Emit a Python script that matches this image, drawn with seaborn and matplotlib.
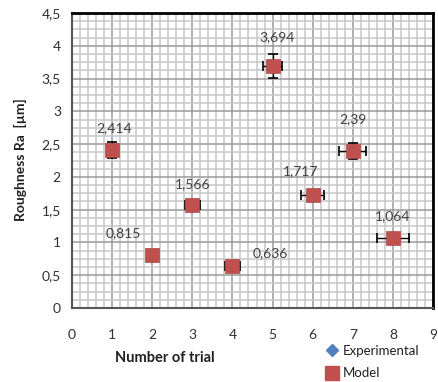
import matplotlib
matplotlib.use("Agg")
import matplotlib.pyplot as plt
import seaborn as sns
import numpy as np
import pandas as pd
from matplotlib.ticker import MultipleLocator, FuncFormatter
from matplotlib.lines import Line2D

trial = [1, 2, 3, 4, 5, 6, 7, 8]
experimental = [2.414, 0.815, 1.566, 0.636, 3.694, 1.717, 2.39, 1.064]
model = [2.414, 0.815, 1.566, 0.636, 3.694, 1.717, 2.39, 1.064]
x_err = [0.0, 0.0, 0.18, 0.19, 0.24, 0.29, 0.34, 0.40]
y_err = [0.125, 0.0, 0.0, 0.0, 0.18, 0.0, 0.12, 0.0]
point_labels = ["2,414", "0,815", "1,566", "0,636", "3,694", "1,717", "2,39", "1,064"]
label_offsets = [(2, 22), (-29, 21), (0, 21), (38, 13), (5, 29), (-12, 24), (0, 32), (0, 22)]

sns.set_style("white")
plt.rcParams['font.family'] = ['Lato', 'DejaVu Sans']

df = pd.DataFrame({"trial": trial, "experimental": experimental, "model": model})

fig = plt.figure(figsize=(4.38, 3.82), dpi=100)
ax = fig.add_axes([72/438, 74/382, (433-72)/438, (308-13)/382])

blue = "#4F81BD"
red = "#C0504D"

sns.scatterplot(data=df, x="trial", y="experimental", ax=ax, marker="D", s=45,
                color=blue, edgecolor=blue, zorder=3, legend=False)
ax.errorbar(trial, experimental, xerr=x_err, yerr=y_err, fmt="none", ecolor="black",
            elinewidth=1.0, capsize=3.5, capthick=1.2, zorder=4)
sns.scatterplot(data=df, x="trial", y="model", ax=ax, marker="s", s=95,
                color=red, edgecolor="#B04744", linewidth=0.5, zorder=5, legend=False)

for xi, yi, lab, (dx, dy) in zip(trial, model, point_labels, label_offsets):
    ax.annotate(lab, (xi, yi), xytext=(dx, dy), textcoords="offset pixels",
                ha="center", va="center", fontsize=10, color="#404040", zorder=6)

ax.set_xlim(0, 9)
ax.set_ylim(0, 4.5)
ax.xaxis.set_major_locator(MultipleLocator(1))
ax.xaxis.set_minor_locator(MultipleLocator(0.2))
ax.yaxis.set_major_locator(MultipleLocator(0.5))
ax.yaxis.set_minor_locator(MultipleLocator(0.125))
ax.yaxis.set_major_formatter(FuncFormatter(lambda v, p: ("%g" % v).replace(".", ",")))
ax.xaxis.set_major_formatter(FuncFormatter(lambda v, p: "%d" % v))

ax.grid(which="major", color="#9a9a9a", linewidth=1.1, zorder=0)
ax.grid(which="minor", color="#c8c8c8", linewidth=1.1, zorder=0)
ax.set_axisbelow(True)

ax.tick_params(axis="both", which="major", direction="out", length=4, width=1,
               color="#888888", labelsize=10, labelcolor="#303030")
ax.tick_params(axis="x", which="major", pad=11)
ax.tick_params(axis="y", which="major", pad=4)
ax.tick_params(which="minor", length=0)

for side in ["top", "right"]:
    ax.spines[side].set_color("black")
    ax.spines[side].set_linewidth(2)
for side in ["left", "bottom"]:
    ax.spines[side].set_color("#555555")
    ax.spines[side].set_linewidth(1.5)

ax.set_xlabel("")
ax.set_ylabel("")
fig.text(20/438, 1 - 160/382, "Roughness Ra  [µm]", rotation=90, ha="center", va="center",
         fontsize=10, fontweight="bold", color="#202020")
fig.text(165/438, 1 - 358/382, "Number of trial", ha="center", va="center",
         fontsize=10.5, fontweight="bold", color="#202020")

handles = [Line2D([], [], marker="D", color=blue, linestyle="none", markersize=6),
           Line2D([], [], marker="s", color=red, linestyle="none", markersize=10)]
fig.legend(handles, ["Experimental", "Model"], loc="upper left",
           bbox_to_anchor=(312/438, 1 - 333/382), frameon=False, fontsize=9.5,
           handletextpad=0.2, labelspacing=0.8, handlelength=1.2, labelcolor="#202020")

fig.savefig("out.png", dpi=100)
